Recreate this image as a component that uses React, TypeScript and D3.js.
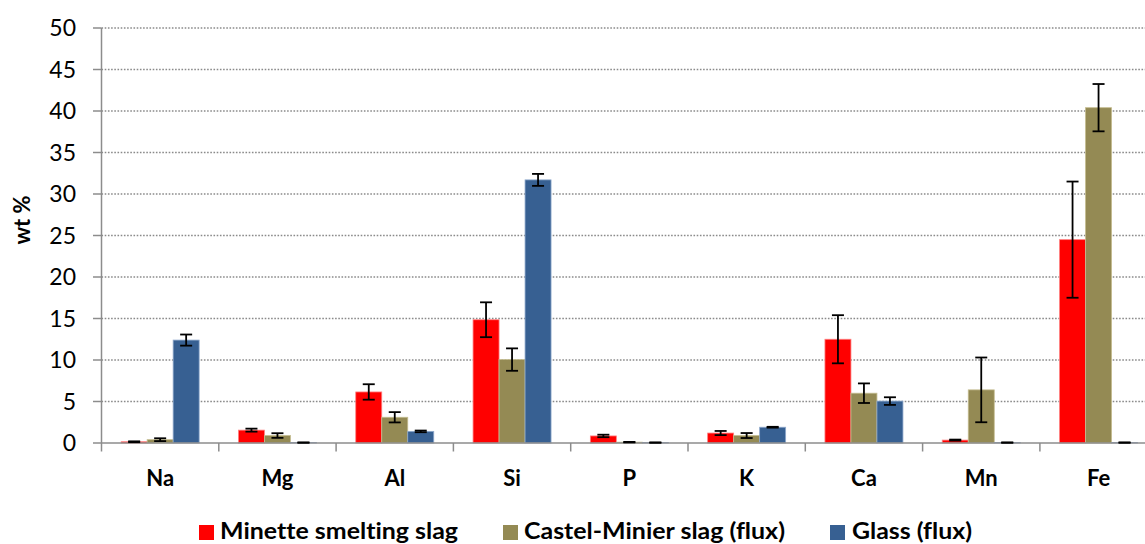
import React from "react";
import * as d3 from "d3";

// Oxide composition (wt %) by element for three materials
const categories = ["Na", "Mg", "Al", "Si", "P", "K", "Ca", "Mn", "Fe"];
const seriesNames = ["Minette smelting slag", "Castel-Minier slag (flux)", "Glass (flux)"];
const seriesColors = ["#FF0000", "#948A54", "#376092"];
const seriesStrokes = ["#FF8080", "#C4BC90", "#8FA9CC"];

const minette = [0.15, 1.55, 6.15, 14.85, 0.85, 1.2, 12.5, 0.35, 24.5];
const minetteErr = [0.05, 0.18, 0.93, 2.1, 0.15, 0.25, 2.9, 0.06, 7.0];
const castel = [0.4, 0.9, 3.1, 10.05, 0.1, 0.9, 6.0, 6.4, 40.4];
const castelErr = [0.17, 0.28, 0.62, 1.35, 0.03, 0.3, 1.18, 3.9, 2.85];
const glass = [12.4, 0.05, 1.4, 31.7, 0.05, 1.9, 5.05, 0.05, 0.05];
const glassErr = [0.67, 0.02, 0.1, 0.72, 0.02, 0.05, 0.46, 0.02, 0.02];

const yTicks = [0, 5, 10, 15, 20, 25, 30, 35, 40, 45, 50];

const W = 1145;
const H = 544;
const left = 101.5;
const top = 28;
const bottom = 443;
const bandW = 117.3;
const groupW = 78;

const FONT = "Lato, 'Open Sans', sans-serif";
const noLig = { fontVariantLigatures: "none" as const, fontFeatureSettings: '"liga" 0, "clig" 0' };

export default function App() {
  const values = [minette, castel, glass];
  const errs = [minetteErr, castelErr, glassErr];

  const x = d3
    .scaleBand<string>()
    .domain(categories)
    .range([left, left + bandW * categories.length])
    .paddingInner(0)
    .paddingOuter(0);
  const xs = d3
    .scaleBand<string>()
    .domain(seriesNames)
    .range([0, groupW])
    .padding(0);
  const y = d3.scaleLinear().domain([0, 50]).range([bottom, top]);

  const offset = (x.bandwidth() - groupW) / 2;
  const capHalf = 6;

  // legend swatch x, label x and label width
  const legendItems = [
    { sx: 199, tx: 220, tw: 238 },
    { sx: 503, tx: 524, tw: 261 },
    { sx: 830, tx: 852, tw: 120 },
  ];

  return (
    <svg
      width={W}
      height={H}
      style={{ position: "absolute", left: 0, top: 0, display: "block", background: "#fff" }}
    >
      {/* gridlines */}
      {yTicks
        .filter((t) => t > 0)
        .map((t) => (
          <line
            key={"g" + t}
            x1={left}
            x2={W}
            y1={y(t)}
            y2={y(t)}
            stroke="#8a8a8a"
            strokeWidth={1.4}
            strokeDasharray="1.6 1.6"
          />
        ))}

      {/* y axis */}
      <line x1={left} x2={left} y1={top} y2={bottom} stroke="#8c8c8c" strokeWidth={1.5} />
      {yTicks.map((t) => (
        <g key={"yt" + t}>
          <line x1={left - 8.5} x2={left} y1={y(t)} y2={y(t)} stroke="#8c8c8c" strokeWidth={1.5} />
          <text
            x={76}
            y={y(t)}
            dy="0.35em"
            textAnchor="end"
            fontFamily={FONT}
            fontSize={23}
            fill="#000"
          >
            {t}
          </text>
        </g>
      ))}
      <text
        transform={`translate(30,220) rotate(-90)`}
        textAnchor="middle"
        fontFamily={FONT}
        fontWeight="bold"
        fontSize={22}
        fill="#000"
      >
        wt %
      </text>

      {/* bars */}
      {categories.map((c, ci) => (
        <g key={"c" + c}>
          {seriesNames.map((s, si) => {
            const v = values[si][ci];
            const bx = (x(c) as number) + offset + (xs(s) as number);
            return (
              <rect
                key={s}
                x={bx}
                y={y(v)}
                width={xs.bandwidth()}
                height={bottom - y(v)}
                fill={seriesColors[si]}
                stroke={seriesStrokes[si]}
                strokeWidth={0.8}
              />
            );
          })}
        </g>
      ))}

      {/* x axis */}
      <line x1={left} x2={W} y1={bottom} y2={bottom} stroke="#8c8c8c" strokeWidth={1.5} />
      {categories.map((c) => (
        <line
          key={"xt" + c}
          x1={x(c) as number}
          x2={x(c) as number}
          y1={bottom}
          y2={bottom + 8.5}
          stroke="#8c8c8c"
          strokeWidth={1.5}
        />
      ))}

      {/* error bars */}
      {categories.map((c, ci) => (
        <g key={"e" + c}>
          {seriesNames.map((s, si) => {
            const v = values[si][ci];
            const e = errs[si][ci];
            const cx = (x(c) as number) + offset + (xs(s) as number) + xs.bandwidth() / 2;
            const y1 = y(v + e);
            const y2 = y(Math.max(0, v - e));
            return (
              <g key={s} stroke="#000" strokeWidth={1.8}>
                <line x1={cx} x2={cx} y1={y1} y2={y2} />
                <line x1={cx - capHalf} x2={cx + capHalf} y1={y1} y2={y1} />
                <line x1={cx - capHalf} x2={cx + capHalf} y1={y2} y2={y2} />
              </g>
            );
          })}
        </g>
      ))}

      {/* category labels */}
      {categories.map((c) => (
        <text
          key={"xl" + c}
          x={(x(c) as number) + x.bandwidth() / 2}
          y={485.5}
          textAnchor="middle"
          fontFamily={FONT}
          fontWeight="bold"
          fontSize={22}
          fill="#000"
        >
          {c}
        </text>
      ))}

      {/* legend */}
      {seriesNames.map((s, si) => (
        <g key={"lg" + s}>
          <rect x={legendItems[si].sx} y={525} width={15} height={15} fill={seriesColors[si]} />
          <text
            x={legendItems[si].tx}
            y={538.5}
            fontFamily={FONT}
            fontWeight="bold"
            fontSize={23}
            textLength={legendItems[si].tw}
            lengthAdjust="spacingAndGlyphs"
            style={noLig}
            fill="#000"
          >
            {s}
          </text>
        </g>
      ))}
    </svg>
  );
}
